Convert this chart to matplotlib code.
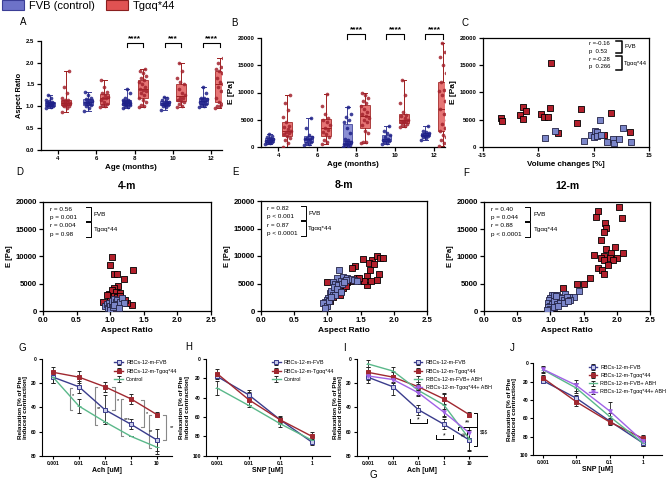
import numpy as np
import matplotlib
matplotlib.use("Agg")
import matplotlib.pyplot as plt
from matplotlib.patches import Patch

plt.rcParams['font.family'] = ['Liberation Sans', 'DejaVu Sans']

# ---------------- data ----------------
ages = [4, 6, 8, 10, 12]
A_fvb = [
    [0.95, 0.98, 1.0, 1.01, 1.02, 1.03, 1.05, 1.06, 1.07, 1.08, 1.09, 1.1, 1.12, 1.15, 1.2, 1.25],
    [0.9, 0.97, 1.0, 1.02, 1.05, 1.07, 1.08, 1.1, 1.12, 1.15, 1.17, 1.2, 1.25, 1.33],
    [0.97, 0.99, 1.0, 1.02, 1.03, 1.05, 1.06, 1.07, 1.08, 1.09, 1.1, 1.11, 1.12, 1.14, 1.15, 1.2, 1.3, 1.4],
    [0.92, 0.98, 1.0, 1.02, 1.04, 1.05, 1.07, 1.08, 1.1, 1.12, 1.14, 1.18, 1.22],
    [0.98, 1.0, 1.03, 1.05, 1.08, 1.1, 1.12, 1.14, 1.16, 1.18, 1.2, 1.3, 1.44],
]
A_tg = [
    [0.88, 0.95, 1.0, 1.0, 1.02, 1.04, 1.05, 1.07, 1.08, 1.1, 1.12, 1.14, 1.15, 1.2, 1.3, 1.45, 1.8],
    [0.98, 1.0, 1.02, 1.05, 1.1, 1.15, 1.18, 1.2, 1.22, 1.25, 1.3, 1.32, 1.45, 1.6],
    [0.98, 1.0, 1.02, 1.1, 1.15, 1.2, 1.25, 1.3, 1.35, 1.38, 1.4, 1.45, 1.5, 1.55, 1.6, 1.65, 1.7, 1.75, 1.8, 1.85],
    [0.98, 1.0, 1.05, 1.1, 1.12, 1.15, 1.18, 1.2, 1.25, 1.3, 1.4, 1.5, 1.55, 1.65, 1.8, 1.98],
    [0.97, 1.0, 1.0, 1.05, 1.1, 1.2, 1.35, 1.45, 1.5, 1.55, 1.65, 1.75, 1.8, 1.85, 1.9, 2.0, 2.1],
]
B_fvb = [
    [500, 700, 800, 900, 1000, 1100, 1200, 1300, 1400, 1600, 1800, 2000, 2400],
    [370, 600, 800, 1000, 1200, 1400, 1500, 1700, 1900, 2200, 3500, 5400],
    [0, 200, 300, 400, 500, 600, 800, 900, 1000, 1200, 1500, 2500, 3500, 4500, 5000, 5500, 6000, 7400],
    [550, 700, 900, 1100, 1200, 1300, 1500, 1800, 2200, 2500, 3000, 3900],
    [1300, 1700, 1900, 2000, 2100, 2200, 2300, 2400, 2500, 2700, 3000, 3900],
]
B_tg = [
    [0, 800, 1300, 1600, 2000, 2300, 2600, 2800, 3000, 3300, 3600, 3800, 4500, 5500, 6800, 8000, 9600],
    [550, 1000, 1300, 1800, 2300, 2800, 3100, 3500, 4000, 4500, 5000, 5300, 6000, 7500, 9700],
    [700, 900, 1000, 2500, 3000, 4000, 4500, 5000, 5400, 5600, 6000, 6500, 7000, 7500, 8000, 8500, 9000, 9500, 10000],
    [3700, 3900, 4100, 4300, 4500, 4600, 4700, 4800, 5000, 5300, 5600, 5900, 6500, 8000, 9500, 12300],
    [250, 800, 1200, 1800, 2200, 3000, 3500, 4200, 5000, 6000, 7000, 8500, 9500, 10200, 10500, 12000, 13500,
     15000, 16500, 17500, 19000],
]
sig_A = ["", "", "****", "***", "****"]
sig_B = ["", "", "****", "****", "****"]

C_tg_x = [-2.6, -11.75, -11.5, -7.7, -7.2, -8.2, -7.8, -4.4, -4.0, -3.2, -2.8, -1.4, 1.97, 2.7, 6.9, 8.2, 11.6]
C_tg_y = [15320, 5250, 4700, 7260, 6530, 5820, 5090, 6040, 5470, 5470, 7140, 2500, 4450, 6950, 2200, 6160, 2740]
C_fvb_x = [-3.7, -2.0, 3.3, 4.5, 5.1, 5.2, 5.6, 5.6, 6.2, 6.4, 7.4, 8.5, 8.6, 9.6, 10.2, 11.7]
C_fvb_y = [1710, 2990, 1100, 2200, 1830, 2930, 2750, 2000, 4940, 2200, 970, 1500, 730, 1500, 3420, 970]

D_fvb_x = [0.92, 0.95, 0.97, 0.98, 1.0, 1.0, 1.02, 1.03, 1.05, 1.05, 1.07, 1.08, 1.1, 1.1, 1.12, 1.15, 1.18, 1.2,
           0.99, 1.04, 1.06, 1.13]
D_fvb_y = [900, 1200, 600, 1500, 300, 1000, 1800, 700, 1300, 2200, 500, 1600, 900, 2000, 1200, 1700, 2300, 1400,
           100, 800, 1100, 600]
D_tg_x = [1.02, 1.0, 1.05, 1.1, 1.34, 1.2, 1.12, 1.05, 0.98, 1.02, 1.08, 1.15, 1.0, 1.05, 1.1, 1.18, 0.9, 1.32,
          1.25, 1.0, 1.03, 1.07, 1.12, 1.22, 0.95, 1.05, 1.15, 1.0]
D_tg_y = [9830, 8420, 6770, 6770, 7450, 5850, 4630, 4270, 3200, 3800, 3500, 3300, 2500, 2800, 2600, 2200, 1590,
          1100, 1500, 2000, 1200, 1800, 1000, 2100, 2900, 400, 2700, 0]

E_fvb_x = [1.18, 1.14, 1.24, 1.3, 1.35, 1.09, 1.11, 1.2, 1.04, 1.01, 0.99, 0.96, 0.94, 1.14, 1.06, 1.1, 1.16, 1.22,
           1.28, 1.0, 1.03, 1.08, 1.12, 1.25, 0.97, 1.05, 1.15, 1.4, 1.45, 1.2]
E_fvb_y = [7500, 5980, 6100, 5980, 5800, 5200, 4900, 5400, 3200, 2400, 2000, 1600, 1400, 3800, 3600, 4300, 4700,
           5000, 5600, 900, 1800, 2900, 3000, 5300, 600, 2600, 4000, 5700, 5500, 3500]
E_tg_x = [1.0, 1.54, 1.67, 1.74, 1.79, 1.83, 1.62, 1.7, 1.64, 1.42, 1.37, 1.59, 1.78, 1.74, 1.59, 1.44, 1.5, 1.35,
          1.3, 1.24, 1.14, 1.19, 1.09, 1.04, 1.11, 1.2, 1.55, 1.65, 1.28, 1.48]
E_tg_y = [5360, 9460, 9330, 9940, 9640, 9640, 8730, 8500, 7500, 8100, 7800, 6280, 6770, 5670, 4760, 5980, 5500,
          5500, 5200, 4150, 3240, 2900, 2500, 1900, 3150, 3700, 5400, 5500, 4500, 6000]

F_fvb_x = [1.43, 1.35, 1.28, 1.22, 1.02, 1.0, 0.98, 0.96, 1.05, 1.08, 1.1, 1.12, 1.15, 1.18, 1.2, 1.25, 1.3, 1.0,
           1.03, 1.06, 1.1, 1.14, 0.97, 1.0, 1.05, 1.12, 1.2, 1.26, 0.95, 1.08]
F_fvb_y = [3600, 2600, 2600, 3200, 2930, 2400, 2000, 1500, 3000, 2200, 2900, 2500, 1800, 2300, 2000, 2500, 2000,
           1000, 1300, 1800, 1200, 1500, 700, 300, 800, 1000, 1500, 1900, 200, 2700]
F_tg_x = [1.71, 1.68, 2.03, 2.08, 1.82, 1.83, 1.81, 1.76, 1.97, 1.83, 2.1, 1.92, 1.65, 1.8, 1.76, 1.9, 2.0, 1.95,
          1.81, 1.87, 1.72, 1.78, 1.81, 1.6, 1.5, 1.4, 1.19, 1.0, 1.05, 1.1, 0.98, 1.02]
F_tg_y = [18360, 17260, 18970, 17080, 16050, 15250, 14520, 12990, 11650, 11350, 10560, 10560, 10190, 10000, 9640,
          9640, 9640, 9400, 9300, 8420, 7810, 7500, 6720, 6100, 4880, 4880, 4150, 2000, 2800, 1500, 1000, 500]

corr_C = ["r =-0.16", "p  0.53", "r =-0.28", "p  0.266"]
corr_D = ["r = 0.56", "p = 0.001", "r = 0.004", "p = 0.98"]
corr_E = ["r = 0.82", "p < 0.001", "r = 0.87", "p < 0.0001"]
corr_F = ["r = 0.40", "p = 0.044", "r = 0.88", "p < 0.0001"]

doses_ach = [0.001, 0.01, 0.1, 1, 10]
doses_snp = [0.001, 0.01, 0.1, 1]
dose_ach_labels = ["0.001", "0.01", "0.1", "1", "10"]
dose_snp_labels = ["0.001", "0.01", "0.1", "1"]

G_fvb = [15, 23, 42, 54, 67]
G_fvb_err = [5, 5, 12, 4, 9]
G_tg = [11, 15, 23, 33, 46]
G_tg_err = [4, 5, 4, 4, 2]
G_ctrl = [15, 39, 52, 64, 73]
G_ctrl_err = [5, 6, 0, 0, 6]

H_fvb = [18, 37, 63, 86]
H_fvb_err = [3, 5, 3, 3]
H_tg = [15, 42, 63, 80]
H_tg_err = [5, 8, 4, 4]
H_ctrl = [30, 48, 67, 84]
H_ctrl_err = [7, 0, 3, 0]

I_fvb = [15, 23, 42, 54, 67]
I_fvb_err = [5, 7, 4, 4, 8]
I_tg = [11, 15, 23, 33, 46]
I_tg_err = [4, 4, 4, 4, 2]
I_fvb_abh = [4, 10, 26, 38, 66]
I_fvb_abh_err = [3, 3, 4, 10, 10]
I_tg_abh = [14, 17, 28, 44, 61]
I_tg_abh_err = [3, 3, 3, 3, 5]

J_fvb = [19, 38, 63, 87]
J_fvb_err = [3, 3, 3, 3]
J_tg = [16, 42, 64, 82]
J_tg_err = [3, 5, 3, 4]
J_fvb_abh = [7, 27, 58, 87]
J_fvb_abh_err = [4, 5, 4, 3]
J_tg_abh = [6.5, 24, 52, 85]
J_tg_abh_err = [3, 6, 10, 3]

lab_fvb = "RBCs-12-m-FVB"
lab_tg = "RBCs-12-m-Tgαq*44"
lab_ctrl = "Control"
lab_fvb_abh = "RBCs-12-m-FVB+ ABH"
lab_tg_abh = "RBCs-12-m-Tgαq*44+ ABH"

# ---------------- style ----------------
W, H = 668, 479
fig = plt.figure(figsize=(W / 100, H / 100), dpi=100)

BLUE_BOX = '#6d72c8'
BLUE_PT = '#1e2088'
RED_BOX = '#e05252'
RED_PT = '#a3222d'
SQ_RED = '#b3202c'
SQ_BLUE = '#7b86c9'
L_FVB = '#3a3c8c'
L_TG = '#a02830'
L_CTRL = '#5ab88a'
L_ABH = '#a062e6'


def ax_px(l, t, r, b):
    return fig.add_axes([l / W, 1 - b / H, (r - l) / W, (b - t) / H])


def ftext(x, y, s, **kw):
    fig.text(x / W, 1 - y / H, s, **kw)


def prism(ax, box=False, lw=0.9):
    for s in ['top', 'right']:
        ax.spines[s].set_visible(box)
    for s in ax.spines.values():
        s.set_linewidth(lw)
    ax.tick_params(direction='out', width=lw, length=3, pad=1.5)


def box_panel(ax, fvb, tg, sig, ylim, yticks, yfmt, ylabel, ylab_fs, star_y, br_y, br_tick, off=0.42):
    pos_f = [a - off for a in ages]
    pos_t = [a + off for a in ages]
    for data, pos, fc, ec, pc in [(fvb, pos_f, BLUE_BOX, '#3b3e96', BLUE_PT),
                                  (tg, pos_t, RED_BOX, '#9c2020', RED_PT)]:
        bp = ax.boxplot(data, positions=pos, widths=0.5, whis=(0, 100), patch_artist=True,
                        showfliers=False, manage_ticks=False)
        for b in bp['boxes']:
            b.set_facecolor(fc)
            b.set_edgecolor(ec)
            b.set_alpha(0.8)
            b.set_linewidth(0.7)
        for k in ['whiskers', 'caps', 'medians']:
            for l in bp[k]:
                l.set_color(ec)
                l.set_linewidth(0.7)
        for vals, p in zip(data, pos):
            n = len(vals)
            jit = (((np.arange(n) * 0.618) % 1) - 0.5) * 0.42
            ax.scatter(p + jit, vals, s=7, color=pc, alpha=0.85, zorder=3, linewidths=0)
    for a, s in zip(ages, sig):
        if s:
            x0, x1 = a - off, a + off
            ax.plot([x0, x0, x1, x1], [br_tick, br_y, br_y, br_tick], color='black', lw=0.8, clip_on=False)
            ax.text(a, star_y, s, ha='center', va='center', fontsize=6, fontweight='bold')
    ax.set_xlim(3.1, 12.55)
    ax.set_ylim(*ylim)
    ax.set_xticks(ages)
    ax.set_xticklabels([str(a) for a in ages], fontsize=4.3, fontweight='bold')
    ax.set_yticks(yticks)
    ax.set_yticklabels([yfmt(v) for v in yticks], fontsize=4.3, fontweight='bold')
    ax.set_ylabel(ylabel, fontsize=ylab_fs, fontweight='bold', labelpad=2)
    ax.set_xlabel("Age (months)", fontsize=5.8, fontweight='bold', labelpad=2)
    prism(ax)


# ---------------- A ----------------
axA = ax_px(40.7, 40.7, 222, 150)
box_panel(axA, A_fvb, A_tg, sig_A, (0, 2.5), [0, 0.5, 1.0, 1.5, 2.0, 2.5], lambda v: f"{v:.1f}",
          "Aspect Ratio", 5.3, 2.55, 2.44, 2.35)

# ---------------- B ----------------
axB = ax_px(260.7, 38, 445, 147)
box_panel(axB, B_fvb, B_tg, sig_B, (0, 20000), [0, 5000, 10000, 15000, 20000], lambda v: f"{int(v)}",
          "E [Pa]", 6.0, 21500, 20700, 19800, off=0.45)


# ---------------- scatter panels ----------------
def scatter_panel(ax, fx, fy, tx, ty, xlim, xticks, xlabels, xlabel, title, fs_tick, fs_lab):
    ax.scatter(tx, ty, marker='s', s=14, facecolor=SQ_RED, edgecolor='black', linewidths=0.6, zorder=3)
    ax.scatter(fx, fy, marker='s', s=14, facecolor=SQ_BLUE, edgecolor='#222244', linewidths=0.6, zorder=4)
    ax.set_xlim(*xlim)
    ax.set_ylim(0, 20000)
    ax.set_xticks(xticks)
    ax.set_xticklabels(xlabels, fontsize=fs_tick, fontweight='bold')
    ax.set_yticks([0, 5000, 10000, 15000, 20000])
    ax.set_yticklabels(["0", "5000", "10000", "15000", "20000"], fontsize=fs_tick, fontweight='bold')
    ax.set_xlabel(xlabel, fontsize=fs_lab, fontweight='bold', labelpad=2)
    ax.set_ylabel("E [Pa]", fontsize=fs_lab - 0.5, fontweight='bold', labelpad=2)
    if title:
        ax.set_title(title, fontsize=7.5, fontweight='bold', pad=9)
    prism(ax, box=True)


def corr_box(ax, lines, tx, bx0, bx1, gx, ys, b1, b2, gy, fs=4.6, blw=0.7):
    for s, y in zip(lines, ys):
        ax.text(tx, y, s, transform=ax.transAxes, fontsize=fs, va='center', ha='left')
    for (y0, y1) in [b1, b2]:
        ax.plot([bx0, bx1, bx1, bx0], [y0, y0, y1, y1], transform=ax.transAxes, color='black', lw=blw,
                clip_on=False)
    ax.text(gx, gy[0], "FVB", transform=ax.transAxes, fontsize=fs, va='center', ha='left')
    ax.text(gx, gy[1], "Tgαq*44", transform=ax.transAxes, fontsize=fs, va='center', ha='left')


axC = ax_px(482.5, 37.7, 649.3, 147)
scatter_panel(axC, C_fvb_x, C_fvb_y, C_tg_x, C_tg_y, (-15, 15), [-15, -5, 5, 15], ["-15", "-5", "5", "15"],
              "Volume changes [%]", None, 4.3, 5.8)
axC.set_ylabel("E [Pa]", fontsize=6.0, fontweight='bold', labelpad=2)
corr_box(axC, corr_C, 0.64, 0.80, 0.835, 0.85, [0.948, 0.878, 0.796, 0.735],
         (0.973, 0.863), (0.833, 0.704), (0.915, 0.768), fs=4.3, blw=1.1)

axD = ax_px(43, 201.7, 211, 311)
scatter_panel(axD, D_fvb_x, D_fvb_y, D_tg_x, D_tg_y, (0, 2.5), [0, 0.5, 1.0, 1.5, 2.0, 2.5],
              ["0.0", "0.5", "1.0", "1.5", "2.0", "2.5"], "Aspect Ratio", "4-m", 5.6, 6.0)
corr_box(axD, corr_D, 0.04, 0.256, 0.286, 0.30, [0.93, 0.855, 0.778, 0.70],
         (0.954, 0.823), (0.814, 0.68), (0.887, 0.747))

axE = ax_px(261, 201, 427, 311)
scatter_panel(axE, E_fvb_x, E_fvb_y, E_tg_x, E_tg_y, (0, 2.5), [0, 0.5, 1.0, 1.5, 2.0, 2.5],
              ["0.0", "0.5", "1.0", "1.5", "2.0", "2.5"], "Aspect Ratio", "8-m", 5.6, 6.0)
corr_box(axE, corr_E, 0.035, 0.24, 0.27, 0.285, [0.93, 0.855, 0.778, 0.70],
         (0.954, 0.823), (0.814, 0.68), (0.887, 0.747))

axF = ax_px(484, 201.7, 650, 311)
scatter_panel(axF, F_fvb_x, F_fvb_y, F_tg_x, F_tg_y, (0, 2.5), [0, 0.5, 1.0, 1.5, 2.0, 2.5],
              ["0.0", "0.5", "1.0", "1.5", "2.0", "2.5"], "Aspect Ratio", "12-m", 5.6, 6.0)
corr_box(axF, corr_F, 0.04, 0.247, 0.28, 0.30, [0.93, 0.855, 0.778, 0.70],
         (0.954, 0.823), (0.814, 0.68), (0.887, 0.747))


# ---------------- dose-response panels ----------------
def dose_panel(ax, x, series, xlabels, xlabel, xlim, ymax, yticks):
    for y, e, c, m, lab, mfc in series:
        ax.errorbar(x, y, yerr=e, color=c, marker=m, ms=2.6, lw=1.0, elinewidth=0.6, capsize=1.2,
                    capthick=0.6, mfc=mfc, mec=c, mew=0.7, label=lab, ecolor='#222222')
    ax.set_xscale('log')
    ax.set_xlim(*xlim)
    ax.set_ylim(ymax, 0)
    ax.set_xticks(x)
    ax.set_xticklabels(xlabels, fontsize=3.6, fontweight='bold')
    ax.minorticks_off()
    ax.set_yticks(yticks)
    ax.set_yticklabels([str(v) for v in yticks], fontsize=3.6, fontweight='bold')
    ax.set_xlabel(xlabel, fontsize=5, fontweight='bold', labelpad=1)
    ax.set_ylabel("Relaxation [% of Phe\ninduced contraction]", fontsize=4.6, fontweight='bold',
                  labelpad=2, linespacing=1.1)
    prism(ax, lw=0.8)
    ax.tick_params(length=2)
    ax.legend(loc='upper right', fontsize=3.9, frameon=False, handlelength=1.6, handletextpad=0.6,
              borderaxespad=0.2, labelspacing=0.6, bbox_to_anchor=(1.06, 1.02))


def bracket(ax, x, y0, y1, side, color, dx=1.25, lw=0.7):
    x2 = x * dx if side == '[' else x / dx
    ax.plot([x2, x, x, x2], [y0, y0, y1, y1], color=color, lw=lw, clip_on=False)


axG = ax_px(41.7, 359, 172, 455.7)
dose_panel(axG, doses_ach,
           [(G_fvb, G_fvb_err, L_FVB, 's', lab_fvb, '#c8cbe8'),
            (G_tg, G_tg_err, L_TG, 's', lab_tg, L_TG),
            (G_ctrl, G_ctrl_err, L_CTRL, '_', lab_ctrl, L_CTRL)],
           dose_ach_labels, "Ach [uM]", (10 ** -3.435, 10 ** 1.58), 80, [0, 20, 40, 60, 80])
GREY = '#888888'
for x, y0, y1, sd in [(0.0045, 24, 42, '['), (0.041, 23, 55, '['), (0.24, 23, 42, ']'),
                      (0.4, 33, 64, '['), (3.16, 34, 56, ']'), (4.9, 46, 74, '['), (21.4, 46, 67, ']')]:
    bracket(axG, x, y0, y1, sd, GREY, lw=0.8)
for x, y, s in [(0.0058, 30, "*"), (0.31, 34, "*"), (4.1, 45, "*"), (37, 57, "**"),
                (0.7, 50, "***"), (6.0, 60, "**"), (0.06, 41, "**")]:
    axG.text(x, y, s, fontsize=4, ha='center', va='center', clip_on=False)

axH = ax_px(205.7, 359, 330, 455.7)
dose_panel(axH, doses_snp,
           [(H_fvb, H_fvb_err, L_FVB, 's', lab_fvb, '#c8cbe8'),
            (H_tg, H_tg_err, L_TG, 's', lab_tg, L_TG),
            (H_ctrl, H_ctrl_err, L_CTRL, '_', lab_ctrl, L_CTRL)],
           dose_snp_labels, "SNP [uM]", (10 ** -3.357, 10 ** 0.57), 100, [0, 20, 40, 60, 80, 100])

axI = ax_px(356.7, 359, 487, 455.7)
dose_panel(axI, doses_ach,
           [(I_fvb, I_fvb_err, L_FVB, 's', lab_fvb, '#c8cbe8'),
            (I_tg, I_tg_err, L_TG, 's', lab_tg, L_TG),
            (I_fvb_abh, I_fvb_abh_err, L_CTRL, '_', lab_fvb_abh, L_CTRL),
            (I_tg_abh, I_tg_abh_err, L_ABH, 'v', lab_tg_abh, L_ABH)],
           dose_ach_labels, "Ach [uM]", (10 ** -3.433, 10 ** 1.7), 80, [0, 20, 40, 60, 80])
axI.plot([0.046, 0.046, 0.22, 0.22], [50, 53, 53, 50], color='black', lw=0.7)
axI.text(0.1, 50.5, "*", fontsize=5, ha='center', va='center')
axI.plot([0.49, 0.49, 2.3, 2.3], [63, 66, 66, 63], color='black', lw=0.7)
axI.text(1.05, 63.5, "*", fontsize=5, ha='center', va='center')
axI.plot([3.5, 3.5, 19.5, 19.5], [59, 56, 56, 59], color='black', lw=0.7, clip_on=False)
axI.text(8.3, 53, "**", fontsize=5, ha='center', va='center')
bracket(axI, 8.0, 59, 68, '[', 'black', dx=1.2)
axI.text(6.0, 63, "##", fontsize=3.6, ha='center', va='center')
bracket(axI, 19.5, 45, 72, ']', 'black', dx=1.3)
axI.text(38, 60, "$$$", fontsize=3.4, ha='center', va='center', clip_on=False)

axJ = ax_px(533.3, 363.3, 662, 455)
dose_panel(axJ, doses_snp,
           [(J_fvb, J_fvb_err, L_FVB, 's', lab_fvb, '#c8cbe8'),
            (J_tg, J_tg_err, L_TG, 's', lab_tg, L_TG),
            (J_fvb_abh, J_fvb_abh_err, L_CTRL, '_', lab_fvb_abh, L_CTRL),
            (J_tg_abh, J_tg_abh_err, L_ABH, 'v', lab_tg_abh, L_ABH)],
           dose_snp_labels, "SNP [uM]", (10 ** -3.29, 10 ** 0.57), 100, [0, 20, 40, 60, 80, 100])

# ---------------- panel letters & legend ----------------
for s, x, y in [("A", 23, 22), ("B", 234, 23), ("C", 465, 23), ("D", 20, 172), ("E", 235, 172),
                ("F", 466, 173), ("G", 22, 348), ("H", 189, 347), ("I", 344, 348), ("J", 512, 348),
                ("G", 373, 475)]:
    ftext(x, y, s, fontsize=7, ha='center', va='center')

handles = [Patch(facecolor=BLUE_BOX, edgecolor='#3b3e96', lw=0.8),
           Patch(facecolor=RED_BOX, edgecolor='#8a1f1f', lw=0.8)]
fig.legend(handles, ["FVB (control)", "Tgαq*44"], loc='upper left', bbox_to_anchor=(0.0, 1.005),
           ncol=2, frameon=False, fontsize=8, handlelength=2.0, handleheight=1.0, columnspacing=1.0,
           handletextpad=0.4, borderaxespad=0.1, borderpad=0.1)

fig.savefig("out.png", dpi=100)
